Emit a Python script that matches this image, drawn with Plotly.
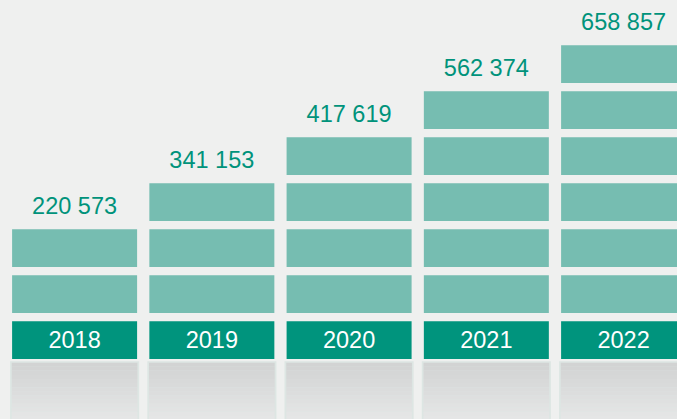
import plotly.graph_objects as go

# ---- data ----
years = ["2018", "2019", "2020", "2021", "2022"]
values = [220573, 341153, 417619, 562374, 658857]
blocks = [2, 3, 4, 5, 6]   # number of pictogram blocks stacked above the year bar

# ---- style ----
BG = "#eff0ef"
LIGHT = "#76bdb1"
DARK = "#00947d"
TEXT_TEAL = "#00937b"
FONT = "Liberation Sans, Arial, sans-serif"
FS = 23.5

x = list(range(len(years)))
W = 0.9107          # bar width in category units
H = 0.82            # block height in row units

fig = go.Figure()

# shadow "pedestal" under each column: soft edge + vertical gradient strips
fig.add_trace(go.Bar(x=x, y=[1.45] * len(x), base=[-1.5] * len(x), width=W + 0.03,
                     marker=dict(color="#dde6e3", line=dict(width=0)),
                     hoverinfo="skip", showlegend=False))
n_strips = 16
top, bottom = -0.08, -1.5
c0 = (0xd2, 0xd3, 0xd3)
c1 = (0xe8, 0xe9, 0xe9)
for s in range(n_strips):
    t = s / (n_strips - 1)
    col = tuple(round(c0[i] + (c1[i] - c0[i]) * t) for i in range(3))
    hi = top + (bottom - top) * s / n_strips
    lo = top + (bottom - top) * (s + 1) / n_strips
    fig.add_trace(go.Bar(x=x, y=[hi - lo] * len(x), base=[lo] * len(x), width=W + 0.005,
                         marker=dict(color="rgb(%d,%d,%d)" % col, line=dict(width=0)),
                         hoverinfo="skip", showlegend=False))

# year bars
fig.add_trace(go.Bar(x=x, y=[H] * len(x), base=[0] * len(x), width=W,
                     marker=dict(color=DARK, line=dict(width=0)),
                     text=years, textposition="inside", insidetextanchor="middle",
                     textfont=dict(color="white", size=FS, family=FONT),
                     constraintext="none", textangle=0,
                     hoverinfo="skip", showlegend=False))

# stacked blocks
for k in range(1, max(blocks) + 1):
    xs = [xi for xi, b in zip(x, blocks) if b >= k]
    fig.add_trace(go.Bar(x=xs, y=[H] * len(xs), base=[k] * len(xs), width=W,
                         marker=dict(color=LIGHT, line=dict(width=0)),
                         hoverinfo="skip", showlegend=False))

# value labels
fig.add_trace(go.Scatter(x=x, y=[b + H + 0.47 for b in blocks], mode="text",
                         text=[f"{v:,}".replace(",", " ") for v in values],
                         textposition="middle center",
                         textfont=dict(color=TEXT_TEAL, size=FS, family=FONT),
                         hoverinfo="skip", showlegend=False, cliponaxis=False))

fig.update_layout(
    width=677, height=419,
    margin=dict(l=0, r=0, t=0, b=0),
    paper_bgcolor=BG, plot_bgcolor=BG,
    barmode="overlay",
    xaxis=dict(range=[-74.6 / 137.25, (677 - 74.6) / 137.25], visible=False, fixedrange=True),
    yaxis=dict(range=[-60 / 46, 359 / 46], visible=False, fixedrange=True),
    font=dict(family=FONT),
)

fig.write_html("out.html", config={"displayModeBar": False},
               post_script="document.body.style.margin='0';document.body.style.background='%s';" % BG)
